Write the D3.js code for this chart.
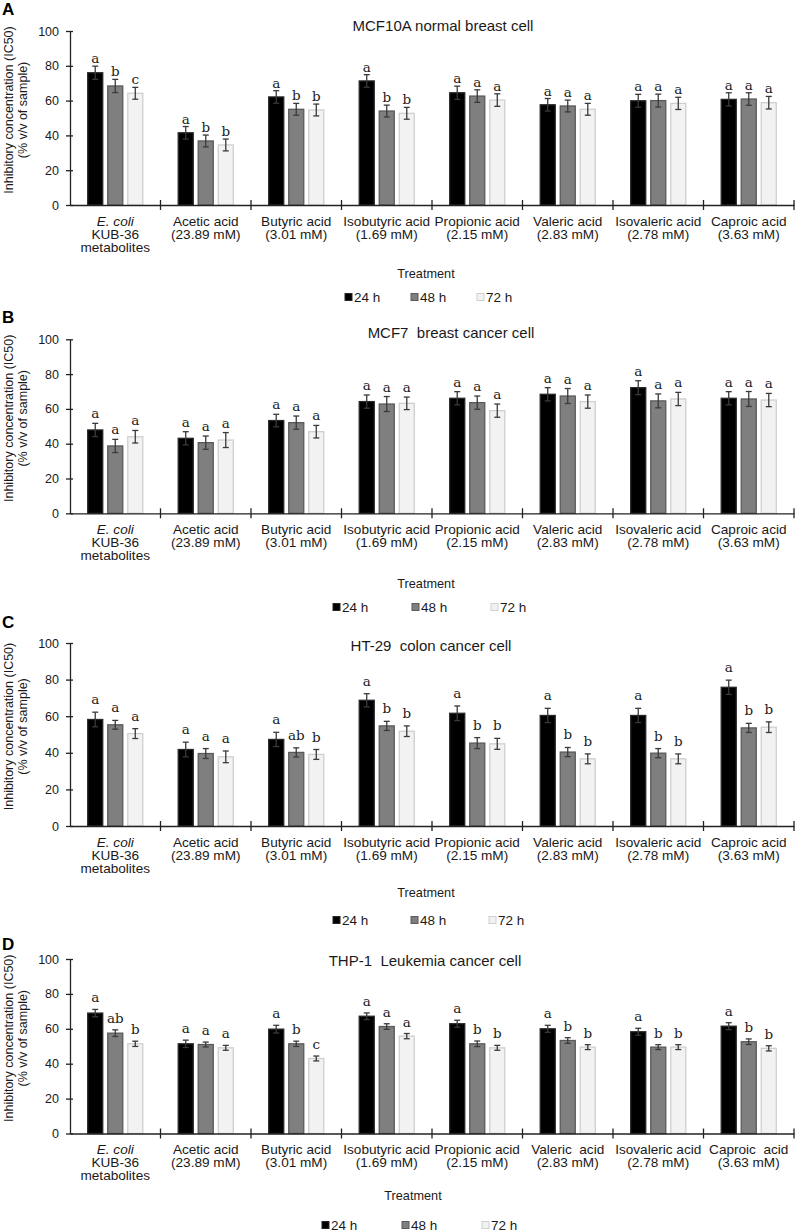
<!DOCTYPE html>
<html><head><meta charset="utf-8">
<script src="https://cdn.jsdelivr.net/npm/d3@7"></script>
<style>
body{margin:0;background:#fff}
svg{display:block}
text{font-family:"Liberation Sans",Arial,sans-serif;fill:#1a1a1a}
</style>
</head><body>
<svg id="chart" width="797" height="1232"></svg>
<script>
// ---------- data ----------
const categories = ["E. coli KUB-36 metabolites","Acetic acid (23.89 mM)","Butyric acid (3.01 mM)","Isobutyric acid (1.69 mM)","Propionic acid (2.15 mM)","Valeric acid (2.83 mM)","Isovaleric acid (2.78 mM)","Caproic acid (3.63 mM)"];
const categoryLines = [["E. coli","KUB-36","metabolites"],["Acetic acid","(23.89 mM)"],["Butyric acid","(3.01 mM)"],["Isobutyric acid","(1.69 mM)"],["Propionic acid","(2.15 mM)"],["Valeric acid","(2.83 mM)"],["Isovaleric acid","(2.78 mM)"],["Caproic acid","(3.63 mM)"]];
const categoryLinesD = [["E. coli","KUB-36","metabolites"],["Acetic acid","(23.89 mM)"],["Butyric acid","(3.01 mM)"],["Isobutyric acid","(1.69 mM)"],["Propionic acid","(2.15 mM)"],["Valeric  acid","(2.83 mM)"],["Isovaleric acid","(2.78 mM)"],["Caproic  acid","(3.63 mM)"]];
const series = ["24 h","48 h","72 h"];
const yTicks = [0,20,40,60,80,100];
const panelLetters = ["A","B","C","D"];
const panelTitles = ["MCF10A normal breast cell","MCF7  breast cancer cell","HT-29  colon cancer cell","THP-1  Leukemia cancer cell"];

// Panel A: MCF10A
const mcf10a_24h = [76.0, 41.5, 62.1, 71.3, 64.5, 57.6, 59.9, 60.7];
const mcf10a_48h = [68.4, 36.8, 55.0, 54.0, 62.6, 56.9, 60.0, 60.9];
const mcf10a_72h = [64.2, 34.5, 54.6, 52.7, 60.3, 55.0, 58.4, 58.8];
const mcf10a_err24 = [3.8, 3.6, 3.6, 3.6, 3.8, 3.6, 3.7, 3.8];
const mcf10a_err48 = [3.8, 3.4, 3.4, 3.4, 3.6, 3.4, 3.7, 3.6];
const mcf10a_err72 = [3.4, 3.4, 3.4, 3.4, 3.6, 3.4, 3.5, 3.6];
const mcf10a_sig24 = ["a","a","a","a","a","a","a","a"];
const mcf10a_sig48 = ["b","b","b","b","a","a","a","a"];
const mcf10a_sig72 = ["c","b","b","b","a","a","a","a"];

// Panel B: MCF7
const mcf7_24h = [47.9, 43.1, 53.3, 64.2, 66.1, 68.4, 72.2, 66.1];
const mcf7_48h = [38.7, 40.6, 52.1, 62.8, 63.6, 67.4, 64.6, 65.7];
const mcf7_72h = [44.0, 42.1, 46.9, 63.2, 59.0, 64.2, 65.7, 65.1];
const mcf7_err24 = [3.8, 3.8, 3.6, 3.8, 3.8, 3.8, 4.0, 3.8];
const mcf7_err48 = [3.8, 3.8, 3.8, 4.3, 3.8, 4.3, 4.0, 4.3];
const mcf7_err72 = [3.6, 4.3, 3.6, 3.6, 3.8, 3.8, 3.8, 3.8];
const mcf7_sig24 = ["a","a","a","a","a","a","a","a"];
const mcf7_sig48 = ["a","a","a","a","a","a","a","a"];
const mcf7_sig72 = ["a","a","a","a","a","a","a","a"];

// Panel C: HT-29
const ht29_24h = [58.2, 41.8, 47.3, 68.7, 61.6, 60.4, 60.4, 75.8];
const ht29_48h = [55.3, 39.6, 40.2, 54.7, 45.3, 40.4, 39.8, 53.6];
const ht29_72h = [50.5, 37.8, 39.1, 51.8, 44.9, 36.7, 36.7, 54.0];
const ht29_err24 = [4.0, 4.0, 3.9, 3.6, 4.0, 3.9, 3.9, 3.9];
const ht29_err48 = [2.4, 2.7, 2.5, 2.5, 3.0, 2.5, 2.5, 2.5];
const ht29_err72 = [2.7, 3.2, 2.7, 2.9, 3.0, 2.7, 2.7, 2.9];
const ht29_sig24 = ["a","a","a","a","a","a","a","a"];
const ht29_sig48 = ["a","a","ab","b","b","b","b","b"];
const ht29_sig72 = ["a","a","b","b","b","b","b","b"];

// Panel D: THP-1
const thp1_24h = [69.0, 51.4, 59.8, 67.2, 62.9, 60.0, 58.3, 61.5];
const thp1_48h = [57.5, 51.0, 51.4, 61.3, 51.4, 53.3, 49.5, 52.6];
const thp1_72h = [51.4, 49.1, 43.0, 55.8, 49.1, 49.5, 49.5, 48.8];
const thp1_err24 = [2.1, 2.1, 2.2, 1.9, 2.0, 2.0, 2.0, 2.0];
const thp1_err48 = [1.9, 1.4, 1.5, 1.6, 1.6, 1.6, 1.4, 1.6];
const thp1_err72 = [1.5, 1.4, 1.4, 1.5, 1.4, 1.4, 1.4, 1.5];
const thp1_sig24 = ["a","a","a","a","a","a","a","a"];
const thp1_sig48 = ["ab","a","b","a","b","b","b","b"];
const thp1_sig72 = ["b","a","c","a","b","b","b","b"];

// ---------- layout (positions only) ----------
const layout = [
  {top:31,    bottom:205,    titleC:25,  titleX:443, treatC:273,  treatX:426, legC:297,  legX:345, legStep:66, letterBase:15,  gap:3},
  {top:339.3, bottom:513.3,  titleC:332, titleX:451, treatC:583,  treatX:426, legC:607,  legX:333, legStep:79, letterBase:323, gap:5},
  {top:643,   bottom:826,    titleC:645, titleX:431, treatC:892,  treatX:426, legC:920,  legX:333, legStep:78, letterBase:628, gap:8},
  {top:959,   bottom:1133.5, titleC:960, titleX:425, treatC:1195, treatX:413, legC:1225, legX:322, legStep:80, letterBase:950, gap:7}
];
const fills = ["#000000","#7f7f7f","#f2f2f2"];
const strokes = ["#262626","#5a5a5a","#cfcfcf"];

const panels = [
  {vals:[mcf10a_24h,mcf10a_48h,mcf10a_72h], errs:[mcf10a_err24,mcf10a_err48,mcf10a_err72], sigs:[mcf10a_sig24,mcf10a_sig48,mcf10a_sig72], cats:categoryLines},
  {vals:[mcf7_24h,mcf7_48h,mcf7_72h], errs:[mcf7_err24,mcf7_err48,mcf7_err72], sigs:[mcf7_sig24,mcf7_sig48,mcf7_sig72], cats:categoryLines},
  {vals:[ht29_24h,ht29_48h,ht29_72h], errs:[ht29_err24,ht29_err48,ht29_err72], sigs:[ht29_sig24,ht29_sig48,ht29_sig72], cats:categoryLines},
  {vals:[thp1_24h,thp1_48h,thp1_72h], errs:[thp1_err24,thp1_err48,thp1_err72], sigs:[thp1_sig24,thp1_sig48,thp1_sig72], cats:categoryLinesD}
];

const svg = d3.select("#chart");
const x0 = d3.scaleBand().domain(categories).range([70, 794]);
const x1 = d3.scaleBand().domain(series).range([0, x0.bandwidth()]).paddingInner(0.2).paddingOuter(0.86);

panels.forEach((p, pi) => {
  const L = layout[pi];
  const g = svg.append("g");
  const y = d3.scaleLinear().domain([0, 100]).range([L.bottom, L.top]);

  // panel letter
  g.append("text").attr("x", 2).attr("y", L.letterBase)
    .attr("font-size", 17).attr("font-weight", "bold").style("fill","#000").text(panelLetters[pi]);
  // title
  g.append("text").attr("x", L.titleX).attr("y", L.titleC + 5.5)
    .attr("text-anchor","middle").attr("font-size", 15).style("white-space","pre")
    .attr("xml:space","preserve").text(panelTitles[pi]);

  // bars
  const rows = [];
  categories.forEach((c, ci) => series.forEach((s, si) => {
    rows.push({c, s, si, v: p.vals[si][ci], e: p.errs[si][ci], sig: p.sigs[si][ci]});
  }));
  g.selectAll("rect.bar").data(rows).join("rect").attr("class","bar")
    .attr("x", d => x0(d.c) + x1(d.s) + 0.5)
    .attr("width", x1.bandwidth() - 1)
    .attr("y", d => y(d.v))
    .attr("height", d => y(0) - y(d.v))
    .attr("fill", d => fills[d.si])
    .attr("stroke", d => strokes[d.si])
    .attr("stroke-width", 1.3);

  // error bars
  const cx = d => x0(d.c) + x1(d.s) + x1.bandwidth() / 2;
  const eb = g.selectAll("g.err").data(rows).join("g").attr("class","err")
    .attr("stroke", "#3a3a3a").attr("stroke-width", 1.3);
  eb.append("line").attr("x1", cx).attr("x2", cx).attr("y1", d => y(d.v + d.e)).attr("y2", d => y(d.v - d.e));
  eb.append("line").attr("x1", d => cx(d) - 3).attr("x2", d => cx(d) + 3).attr("y1", d => y(d.v + d.e)).attr("y2", d => y(d.v + d.e));
  eb.append("line").attr("x1", d => cx(d) - 3).attr("x2", d => cx(d) + 3).attr("y1", d => y(d.v - d.e)).attr("y2", d => y(d.v - d.e));

  // significance letters
  g.selectAll("text.sig").data(rows).join("text").attr("class","sig")
    .attr("x", cx).attr("y", d => y(d.v + d.e) - L.gap)
    .attr("text-anchor","middle").attr("font-size", 13.5)
    .style("font-family", "'DejaVu Serif','Liberation Serif',serif").style("fill","#1a1a1a")
    .text(d => d.sig);

  // y axis
  const ya = g.append("g").attr("transform", "translate(70,0)")
    .call(d3.axisLeft(y).tickValues(yTicks).tickSize(4).tickSizeOuter(0).tickPadding(7));
  ya.select(".domain").attr("stroke", "#222").attr("stroke-width", 1.3);
  ya.selectAll(".tick line").attr("x1", 3).attr("stroke", "#222").attr("stroke-width", 1.3);
  ya.selectAll(".tick text").attr("font-size", 12.5).style("font-family","'Liberation Sans',Arial,sans-serif").style("fill","#1a1a1a");

  // x axis
  const xa = g.append("g").attr("transform", `translate(0,${L.bottom})`)
    .call(d3.axisBottom(x0).tickSize(0).tickFormat(""));
  xa.select(".domain").attr("stroke", "#222").attr("stroke-width", 1.3);
  g.selectAll("line.sep").data(categories).join("line").attr("class","sep")
    .attr("x1", d => x0(d) + x0.bandwidth()).attr("x2", d => x0(d) + x0.bandwidth())
    .attr("y1", L.bottom - 5).attr("y2", L.bottom + 5)
    .attr("stroke", "#222").attr("stroke-width", 1.3);

  // category labels
  const cl = g.selectAll("text.cat").data(categories).join("text").attr("class","cat")
    .attr("text-anchor","middle").attr("font-size", 13.6)
    .attr("xml:space","preserve").style("white-space","pre");
  cl.each(function(c, ci) {
    const t = d3.select(this);
    p.cats[ci].forEach((line, li) => {
      t.append("tspan").attr("x", x0(c) + x0.bandwidth() / 2)
        .attr("y", L.bottom + 20.5 + li * 13)
        .style("font-style", (ci === 0 && li === 0) ? "italic" : "normal")
        .text(line);
    });
  });

  // y label
  const ymid = (L.top + L.bottom) / 2 - 8;
  g.append("text").attr("transform", `translate(12.5,${ymid}) rotate(-90)`)
    .attr("text-anchor","middle").attr("font-size", 12.5).text("Inhibitory concentration (IC50)");
  g.append("text").attr("transform", `translate(27,${ymid}) rotate(-90)`)
    .attr("text-anchor","middle").attr("font-size", 12.5).text("(% v/v of sample)");

  // x title
  g.append("text").attr("x", L.treatX).attr("y", L.treatC + 4.5)
    .attr("text-anchor","middle").attr("font-size", 12.7).text("Treatment");

  // legend
  const lg = g.selectAll("g.leg").data(series).join("g").attr("class","leg")
    .attr("transform", (d, i) => `translate(${L.legX + i * L.legStep},${L.legC})`);
  lg.append("rect").attr("x", 0).attr("y", -3.5).attr("width", 7).attr("height", 7)
    .attr("fill", (d, i) => fills[i]).attr("stroke", (d, i) => strokes[i]).attr("stroke-width", 1);
  lg.append("text").attr("x", 9).attr("y", 4.8).attr("font-size", 13.5).text(d => d);
});
</script>
</body></html>
